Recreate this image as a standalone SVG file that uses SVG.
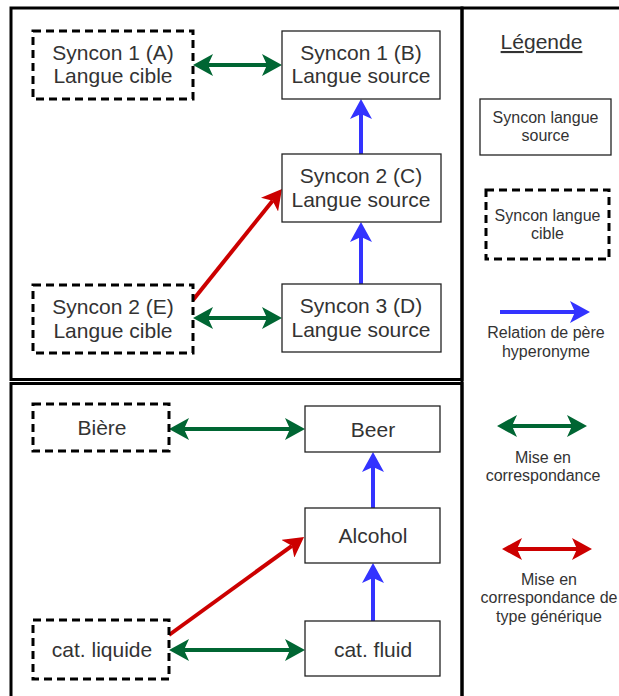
<svg xmlns="http://www.w3.org/2000/svg" width="619" height="696" viewBox="0 0 619 696">
<style>
.frame{fill:none;stroke:#000;stroke-width:3}
.src{fill:#fff;stroke:#222;stroke-width:1.3}
.tgt{fill:#fff;stroke:#000;stroke-width:3;stroke-dasharray:8 5}
.t{font-family:"Liberation Sans",Arial,sans-serif;font-size:21px;fill:#333;text-anchor:middle}
.l{font-family:"Liberation Sans",Arial,sans-serif;font-size:16px;fill:#333;text-anchor:middle}
.blue{stroke:#3333FF;stroke-width:4;fill:none}
.green{stroke:#006633;stroke-width:4;fill:none}
.red{stroke:#CC0000;stroke-width:4;fill:none}
</style>
<defs>
<marker id="hb" viewBox="0 0 20 22" refX="5" refY="11" markerWidth="20" markerHeight="22" markerUnits="userSpaceOnUse" orient="auto-start-reverse"><path d="M0,0 L20,11 L0,22 L5,11 Z" fill="#3333FF"/></marker>
<marker id="hg" viewBox="0 0 20 22" refX="5" refY="11" markerWidth="20" markerHeight="22" markerUnits="userSpaceOnUse" orient="auto-start-reverse"><path d="M0,0 L20,11 L0,22 L5,11 Z" fill="#006633"/></marker>
<marker id="hr" viewBox="0 0 20 22" refX="5" refY="11" markerWidth="20" markerHeight="22" markerUnits="userSpaceOnUse" orient="auto-start-reverse"><path d="M0,0 L20,11 L0,22 L5,11 Z" fill="#CC0000"/></marker>
</defs>
<rect width="619" height="696" fill="#fff"/>
<g id="frames">
<rect class="frame" x="11" y="8" width="451" height="371.5"/>
<rect class="frame" x="11" y="383.5" width="451" height="330"/>
<rect class="frame" x="462" y="8" width="170" height="710"/>
</g>
<g id="connectors">
<line class="blue" x1="361" y1="154" x2="361" y2="114" marker-end="url(#hb)"/>
<line class="blue" x1="361" y1="284" x2="361" y2="237" marker-end="url(#hb)"/>
<line class="green" x1="208" y1="65" x2="267" y2="65" marker-start="url(#hg)" marker-end="url(#hg)"/>
<line class="green" x1="208" y1="318" x2="267" y2="318" marker-start="url(#hg)" marker-end="url(#hg)"/>
<line class="red" x1="193" y1="300" x2="272.6" y2="200.7" marker-end="url(#hr)"/>
<line class="green" x1="184" y1="429" x2="290" y2="429" marker-start="url(#hg)" marker-end="url(#hg)"/>
<line class="blue" x1="373" y1="508" x2="373" y2="467" marker-end="url(#hb)"/>
<line class="blue" x1="373" y1="621" x2="373" y2="578" marker-end="url(#hb)"/>
<line class="green" x1="184" y1="650" x2="290" y2="650" marker-start="url(#hg)" marker-end="url(#hg)"/>
<line class="red" x1="169" y1="635" x2="291.9" y2="545.8" marker-end="url(#hr)"/>
<line class="blue" x1="500" y1="312" x2="575" y2="312" marker-end="url(#hb)"/>
<line class="green" x1="512" y1="426" x2="572" y2="426" marker-start="url(#hg)" marker-end="url(#hg)"/>
<line class="red" x1="517" y1="549" x2="577" y2="549" marker-start="url(#hr)" marker-end="url(#hr)"/>
</g>
<g id="nodeA"><rect class="tgt" x="33" y="31" width="160" height="68"/><text class="t" x="113" y="60">Syncon 1 (A)</text><text class="t" x="113" y="83">Langue cible</text></g>
<g id="nodeB"><rect class="src" x="282" y="31" width="158" height="68"/><text class="t" x="361" y="60">Syncon 1 (B)</text><text class="t" x="361" y="83">Langue source</text></g>
<g id="nodeC"><rect class="src" x="282" y="154" width="159" height="68"/><text class="t" x="361" y="183">Syncon 2 (C)</text><text class="t" x="361" y="207">Langue source</text></g>
<g id="nodeD"><rect class="src" x="282" y="284" width="159" height="68"/><text class="t" x="361" y="313">Syncon 3 (D)</text><text class="t" x="361" y="337">Langue source</text></g>
<g id="nodeE"><rect class="tgt" x="33" y="285" width="160" height="68"/><text class="t" x="113" y="314">Syncon 2 (E)</text><text class="t" x="113" y="338">Langue cible</text></g>
<g id="nodeBiere"><rect class="tgt" x="33" y="404" width="136" height="47"/><text class="t" x="102" y="435">Bière</text></g>
<g id="nodeBeer"><rect class="src" x="305" y="406" width="135" height="46"/><text class="t" x="373" y="437">Beer</text></g>
<g id="nodeAlcohol"><rect class="src" x="305" y="508" width="135" height="55"/><text class="t" x="373" y="543">Alcohol</text></g>
<g id="nodeFluid"><rect class="src" x="305" y="621" width="135" height="55"/><text class="t" x="373" y="657">cat. fluid</text></g>
<g id="nodeLiquide"><rect class="tgt" x="33" y="620" width="136" height="59"/><text class="t" x="102" y="657">cat. liquide</text></g>
<g id="legend">
<text class="t" x="541.5" y="49" text-decoration="underline">Légende</text>
<g id="legendSource"><rect class="src" x="480" y="99" width="131" height="56"/><text class="l" x="545.5" y="123">Syncon langue</text><text class="l" x="545.5" y="141">source</text></g>
<g id="legendCible"><rect class="tgt" x="486" y="190" width="123" height="69"/><text class="l" x="547.5" y="221">Syncon langue</text><text class="l" x="547.5" y="239">cible</text></g>
<text class="l" x="546" y="338">Relation de père</text><text class="l" x="546" y="357">hyperonyme</text>
<text class="l" x="543" y="463">Mise en</text><text class="l" x="543" y="481">correspondance</text>
<text class="l" x="549" y="585">Mise en</text><text class="l" x="549" y="603">correspondance de</text><text class="l" x="549" y="622">type générique</text>
</g>
</svg>
